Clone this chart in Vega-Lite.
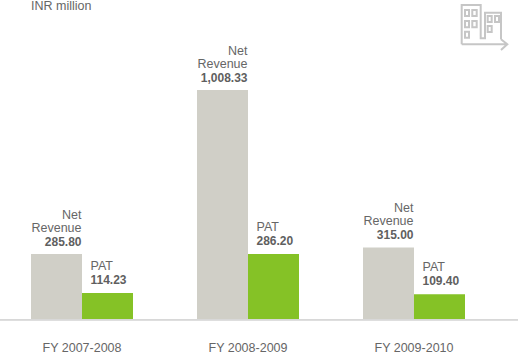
{
"$schema":"https://vega.github.io/schema/vega-lite/v6.json",
"width":518,"height":299,
"autosize":{"type":"none"},
"padding":{"top":20,"left":0,"right":0,"bottom":37},
"background":"white",
"title":{"text":"INR million","anchor":"start","frame":"group","dx":31,"dy":22,"offset":0,"baseline":"alphabetic","fontSize":12.5,"fontWeight":"normal","font":"Liberation Sans","color":"#666666"},
"config":{"view":{"stroke":null},"font":"Liberation Sans"},
"datasets":{"rows":[
{"fy":"FY 2007-2008","series":"Net Revenue","value":285.80,"label":"Net\nRevenue"},
{"fy":"FY 2007-2008","series":"PAT","value":114.23,"label":"PAT"},
{"fy":"FY 2008-2009","series":"Net Revenue","value":1008.33,"label":"Net\nRevenue"},
{"fy":"FY 2008-2009","series":"PAT","value":286.20,"label":"PAT"},
{"fy":"FY 2009-2010","series":"Net Revenue","value":315.00,"label":"Net\nRevenue"},
{"fy":"FY 2009-2010","series":"PAT","value":109.40,"label":"PAT"}
]},
"data":{"name":"rows"},
"encoding":{
"x":{"field":"fy","type":"nominal","title":null,
"scale":{"domain":["FY 2007-2008","FY 2008-2009","FY 2009-2010"],"range":[-1,497],"paddingInner":0.3855,"paddingOuter":0.1928},
"axis":{"domain":false,"ticks":false,"grid":false,"labelAngle":0,"labelPadding":22,"labelFontSize":12.5,"labelFont":"Liberation Sans","labelColor":"#666666"}},
"y":{"field":"value","type":"quantitative","title":null,"scale":{"domain":[0,1316.6],"nice":false},"axis":null}
},
"layer":[
{"mark":{"type":"bar"},"encoding":{
"xOffset":{"field":"series","type":"nominal","sort":["Net Revenue","PAT"]},
"color":{"field":"series","type":"nominal","legend":null,"scale":{"domain":["Net Revenue","PAT"],"range":["#d0cfc7","#85c226"]}}}},
{"mark":{"type":"rule","color":"#d8d8d8","strokeWidth":1.3,"yOffset":0.6},"encoding":{"x":{"value":0},"x2":{"value":518},"y":{"datum":0}}},
{"transform":[{"filter":"datum.series==='Net Revenue'"}],"mark":{"type":"text","align":"right","baseline":"alphabetic","dx":25,"dy":-8.5,"fontWeight":"bold","fontSize":12,"color":"#5f5f5f"},"encoding":{"xOffset":{"field":"series","type":"nominal","scale":{"domain":["Net Revenue","PAT"]}},"text":{"field":"value","type":"quantitative","format":",.2f"}}},
{"transform":[{"filter":"datum.series==='PAT'"}],"mark":{"type":"text","align":"left","baseline":"alphabetic","dx":-17,"dy":-9,"fontWeight":"bold","fontSize":12,"color":"#5f5f5f"},"encoding":{"xOffset":{"field":"series","type":"nominal","scale":{"domain":["Net Revenue","PAT"]}},"text":{"field":"value","type":"quantitative","format":",.2f"}}},
{"transform":[{"filter":"datum.series==='Net Revenue'"}],"mark":{"type":"text","align":"right","baseline":"alphabetic","lineBreak":"\n","lineHeight":12.5,"dx":25,"dy":-35,"fontSize":12.5,"color":"#666666"},"encoding":{"xOffset":{"field":"series","type":"nominal","scale":{"domain":["Net Revenue","PAT"]}},"text":{"field":"label"}}},
{"transform":[{"filter":"datum.series==='PAT'"}],"mark":{"type":"text","align":"left","baseline":"alphabetic","dx":-17,"dy":-23,"fontSize":12.5,"color":"#666666"},"encoding":{"xOffset":{"field":"series","type":"nominal","scale":{"domain":["Net Revenue","PAT"]}},"text":{"field":"label"}}},
{"data":{"values":[{"fy":"FY 2009-2010","value":1286}]},"mark":{"type":"point","filled":false,"size":4,"stroke":"#c6c6c6","strokeWidth":2,"opacity":1,"shape":"M47.7 17.3V-22H66.7V11.3H71V-14.3H87V12.3M47.7 17.3H93.3M87 12.3L93.3 17.3L87 23M51 -17H55V-11H51ZM58.3 -17H62.7V-11H58.3ZM51 -6H55V0.3H51ZM58.3 -6H62.7V0.3H58.3ZM51 4.7H55V10.7H51ZM73.7 -11H77.7V-5H73.7ZM81 -11H85V-5H81ZM73.7 -1H77.7V5H73.7Z"}}
]
}
